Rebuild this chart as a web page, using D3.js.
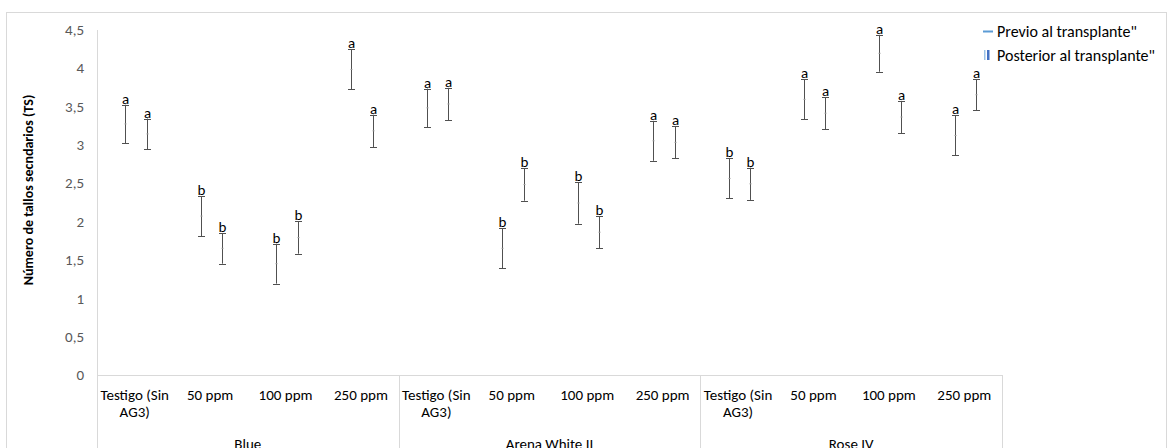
<!DOCTYPE html>
<html>
<head>
<meta charset="utf-8">
<script src="https://cdn.jsdelivr.net/npm/d3@7"></script>
<style>
  body { margin: 0; background: #ffffff; }
  text { font-family: Calibri, Carlito, "Liberation Sans", Arial, sans-serif; }
</style>
</head>
<body>
<div class="chart"></div>
<script>
var w = 1171;
var h = 448;

// data
var groups = ["Blue", "Arena White II", "Rose IV"];
var treatments = ["Testigo (Sin AG3)", "50 ppm", "100 ppm", "250 ppm"];
var series = ['Previo al transplante"', 'Posterior al transplante"'];
var yTicks = [0, 0.5, 1, 1.5, 2, 2.5, 3, 3.5, 4, 4.5];

var previoMean  = [3.27, 2.07, 1.45, 3.98, 3.48, 1.65, 2.24, 3.05, 2.56, 3.59, 4.19, 3.12];
var previoErr   = [0.25, 0.26, 0.26, 0.26, 0.25, 0.26, 0.27, 0.26, 0.26, 0.26, 0.24, 0.26];
var posteriorMean = [3.14, 1.65, 1.79, 3.18, 3.53, 2.48, 1.86, 3.03, 2.49, 3.41, 3.36, 3.65];
var posteriorErr  = [0.20, 0.20, 0.21, 0.21, 0.21, 0.21, 0.21, 0.21, 0.21, 0.21, 0.21, 0.20];
var previoLetter    = ["a", "b", "b", "a", "a", "b", "b", "a", "b", "a", "a", "a"];
var posteriorLetter = ["a", "b", "b", "a", "a", "b", "b", "a", "b", "a", "a", "a"];

var colorAxis = "#d9d9d9";
var colorText = "#595959";
var colorBar = "#505050";
var colorLegend = "#5b9bd5";
var fontFam = "Calibri, Carlito, 'Liberation Sans', Arial, sans-serif";

var plotLeft = 97, plotRight = 1002, plotTop = 29.5, plotBottom = 375;

var svg = d3.select(".chart")
    .append("svg")
    .attr("width", w)
    .attr("height", h);

// chart frame
svg.append("rect")
    .attr("x", 6.5)
    .attr("y", 12.5)
    .attr("width", 1160)
    .attr("height", 460)
    .attr("fill", "none")
    .attr("stroke", colorAxis);

var keys = [];
groups.forEach(function(g) {
    treatments.forEach(function(t) { keys.push(g + "|" + t); });
});

var x0 = d3.scaleBand().domain(keys).range([plotLeft, plotRight]);
var gx = d3.scaleBand().domain(groups).range([plotLeft, plotRight]);
var x1 = d3.scalePoint().domain(series)
    .range([x0.bandwidth() / 2 - 9.5, x0.bandwidth() / 2 + 12]);
var y = d3.scaleLinear().domain([0, 4.5]).range([plotBottom, plotTop]);

var fmt = d3.formatLocale({ decimal: ",", thousands: ".", grouping: [3], currency: ["", ""] }).format(".1~f");

// y axis
var yAxis = svg.append("g")
    .attr("transform", "translate(" + plotLeft + ",0)")
    .call(d3.axisLeft(y).tickValues(yTicks).tickFormat(fmt).tickSize(0).tickPadding(13));
yAxis.select(".domain").attr("stroke", colorAxis);
yAxis.selectAll("text")
    .attr("fill", colorText)
    .attr("font-size", "15px")
    .style("font-family", fontFam);

svg.append("text")
    .attr("transform", "translate(33,190) rotate(-90)")
    .attr("text-anchor", "middle")
    .attr("font-size", "14px")
    .attr("font-weight", "bold")
    .attr("fill", "#000")
    .text("Número de tallos secndarios (TS)");

// category axis
svg.append("line")
    .attr("x1", plotLeft).attr("x2", plotRight)
    .attr("y1", plotBottom + 0.5).attr("y2", plotBottom + 0.5)
    .attr("stroke", colorAxis);

var seps = groups.map(function(g) { return gx(g); }).concat([plotRight]);
svg.selectAll(".sep")
    .data(seps)
    .enter().append("line")
    .attr("class", "sep")
    .attr("x1", function(d) { return Math.round(d) + 0.5; })
    .attr("x2", function(d) { return Math.round(d) + 0.5; })
    .attr("y1", plotBottom)
    .attr("y2", h)
    .attr("stroke", colorAxis);

var catLabels = svg.selectAll(".cat")
    .data(keys)
    .enter().append("text")
    .attr("class", "cat")
    .attr("text-anchor", "middle")
    .attr("font-size", "15px")
    .attr("fill", "#000");
catLabels.each(function(k) {
    var t = k.split("|")[1];
    var cx = x0(k) + x0.bandwidth() / 2;
    var lines = t === "Testigo (Sin AG3)" ? ["Testigo (Sin", "AG3)"] : [t];
    d3.select(this).selectAll("tspan")
        .data(lines)
        .enter().append("tspan")
        .attr("x", cx)
        .attr("y", function(d, i) { return 400 + i * 17; })
        .text(function(d) { return d; });
});

svg.selectAll(".grp")
    .data(groups)
    .enter().append("text")
    .attr("class", "grp")
    .attr("x", function(g) { return gx(g) + gx.bandwidth() / 2; })
    .attr("y", 449)
    .attr("text-anchor", "middle")
    .attr("font-size", "15px")
    .attr("fill", "#000")
    .text(function(g) { return g; });

// error bars
var points = [];
keys.forEach(function(k, i) {
    points.push({ key: k, s: series[0], mean: previoMean[i], err: previoErr[i], letter: previoLetter[i] });
    points.push({ key: k, s: series[1], mean: posteriorMean[i], err: posteriorErr[i], letter: posteriorLetter[i] });
});

var bars = svg.selectAll(".eb")
    .data(points)
    .enter().append("g")
    .attr("class", "eb")
    .attr("transform", function(d) { return "translate(" + (Math.round(x0(d.key) + x1(d.s)) + 0.5) + ",0)"; });

bars.append("line")
    .attr("y1", function(d) { return y(d.mean + d.err); })
    .attr("y2", function(d) { return y(d.mean - d.err); })
    .attr("stroke", colorBar);

bars.selectAll(".cap")
    .data(function(d) { return [d.mean + d.err, d.mean - d.err]; })
    .enter().append("line")
    .attr("class", "cap")
    .attr("x1", -3.5).attr("x2", 3.5)
    .attr("y1", function(v) { return Math.round(y(v)) + 0.5; })
    .attr("y2", function(v) { return Math.round(y(v)) + 0.5; })
    .attr("stroke", colorBar);

bars.append("line")
    .attr("x1", -1).attr("x2", 1)
    .attr("y1", function(d) { return y(d.mean); })
    .attr("y2", function(d) { return y(d.mean); })
    .attr("stroke", "#9a9a9a");

bars.append("text")
    .attr("y", function(d) { return y(d.mean + d.err) - 1; })
    .attr("text-anchor", "middle")
    .attr("font-size", "15px")
    .attr("fill", "#000")
    .text(function(d) { return d.letter; });

// legend
var legend = svg.append("g").attr("transform", "translate(983,0)");
legend.append("line")
    .attr("x1", 0).attr("x2", 10)
    .attr("y1", 31.5).attr("y2", 31.5)
    .attr("stroke", colorLegend)
    .attr("stroke-width", 2);
legend.append("text")
    .attr("x", 14).attr("y", 37)
    .attr("font-size", "16px")
    .attr("fill", "#000")
    .text(series[0]);

legend.append("rect")
    .attr("x", 1).attr("y", 50)
    .attr("width", 1.5).attr("height", 10)
    .attr("fill", "#9dc3e6");
legend.append("rect")
    .attr("x", 4).attr("y", 50)
    .attr("width", 2.5).attr("height", 10)
    .attr("fill", "#4472c4");
legend.append("text")
    .attr("x", 14).attr("y", 61)
    .attr("font-size", "16px")
    .attr("fill", "#000")
    .text(series[1]);
</script>
</body>
</html>
